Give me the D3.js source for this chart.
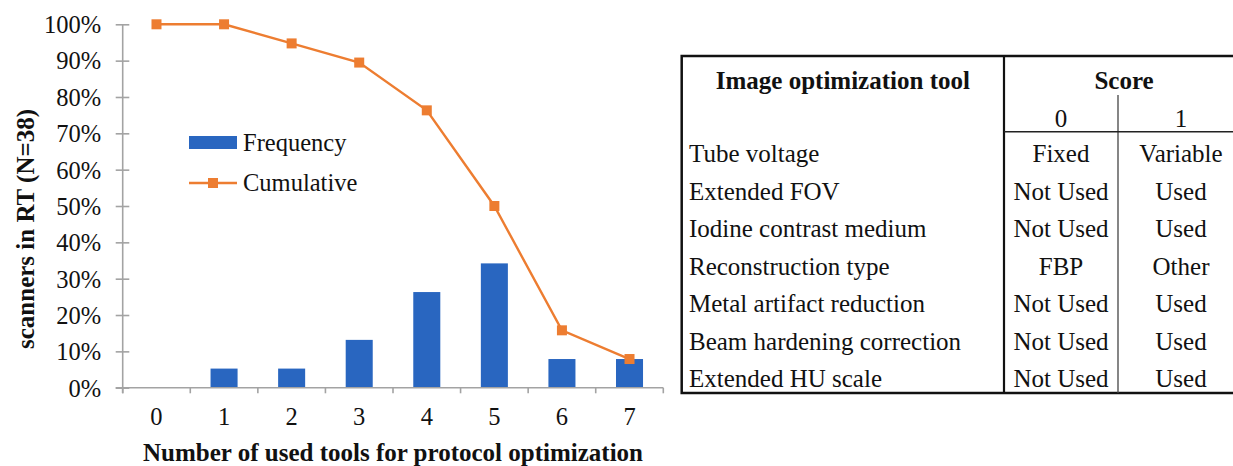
<!DOCTYPE html>
<html>
<head>
<meta charset="utf-8">
<script src="https://cdn.jsdelivr.net/npm/d3@7/dist/d3.min.js"></script>
<style>
  html, body { margin: 0; padding: 0; background: #fff; }
  svg { display: block; font-family: "Liberation Serif", "Times New Roman", serif; }
</style>
</head>
<body>
<svg id="chart" width="1233" height="466"></svg>
<script>
// ---- Data ----
const categories = ["0", "1", "2", "3", "4", "5", "6", "7"];
const frequency  = [0, 5.26, 5.26, 13.16, 26.32, 34.21, 7.89, 7.89];        // % of scanners
const cumulative = [100, 100, 94.74, 89.47, 76.32, 50.0, 15.79, 7.89];      // % of scanners
const yTicks     = [0, 10, 20, 30, 40, 50, 60, 70, 80, 90, 100];
const seriesNames = ["Frequency", "Cumulative"];
const xTitle = "Number of used tools for protocol optimization";
const yTitle = "scanners in RT (N=38)";

const tableHeader = ["Image optimization tool", "Score"];
const scoreLevels = ["0", "1"];
const tools  = ["Tube voltage", "Extended FOV", "Iodine contrast medium", "Reconstruction type",
                "Metal artifact reduction", "Beam hardening correction", "Extended HU scale"];
const score0 = ["Fixed", "Not Used", "Not Used", "FBP", "Not Used", "Not Used", "Not Used"];
const score1 = ["Variable", "Used", "Used", "Other", "Used", "Used", "Used"];

// ---- Styles ----
const BLUE = "#2966C0", ORANGE = "#ED7D31", AXIS = "#A3A3A3";
const TF = 25;

const svg = d3.select("#chart");

// ---- Chart ----
const plot = { left: 122.7, right: 663.3, top: 24.3, bottom: 387.7 };
const x = d3.scaleBand().domain(categories).range([plot.left, plot.right]).padding(0);
const y = d3.scaleLinear().domain([0, 100]).range([plot.bottom, plot.top]);
const barW = x.bandwidth() * 0.4;
const cx = d => x(d) + x.bandwidth() / 2;

// bars
svg.append("g").selectAll("rect").data(categories).join("rect")
  .attr("x", (d) => cx(d) - barW / 2)
  .attr("y", (d, i) => y(frequency[i]))
  .attr("width", barW)
  .attr("height", (d, i) => y(0) - y(frequency[i]))
  .attr("fill", BLUE);

// y axis
const yAxis = svg.append("g")
  .attr("transform", `translate(${plot.left},0)`)
  .call(d3.axisLeft(y).tickValues(yTicks).tickFormat(d => d + "%").tickSizeOuter(0));
yAxis.select(".domain").attr("stroke", AXIS).attr("stroke-width", 1.6)
  .attr("d", `M0,${plot.top}V${plot.bottom + 5.6}`);
yAxis.selectAll(".tick line").attr("stroke", AXIS).attr("stroke-width", 1.6).attr("x1", 6.6).attr("x2", -7);
yAxis.selectAll(".tick text").attr("x", -21.5).attr("dy", "0.34em")
  .attr("font-size", 24.5).attr("fill", "#111").attr("font-family", "Liberation Serif");

// x axis
const xAxis = svg.append("g").attr("transform", `translate(0,${plot.bottom})`);
xAxis.append("line").attr("x1", plot.left - 7).attr("x2", plot.right)
  .attr("stroke", AXIS).attr("stroke-width", 1.6);
const bounds = categories.map(d => x(d)).concat([x.range()[1]]);
xAxis.selectAll("line.tk").data(bounds).join("line").attr("class", "tk")
  .attr("x1", d => d).attr("x2", d => d).attr("y1", 0).attr("y2", 5.6)
  .attr("stroke", AXIS).attr("stroke-width", 1.6);
xAxis.selectAll("text").data(categories).join("text")
  .attr("x", d => cx(d)).attr("y", 37.5).attr("text-anchor", "middle")
  .attr("font-size", 24.5).attr("fill", "#111").text(d => d);

// cumulative line
const line = d3.line().x((d, i) => cx(categories[i])).y(d => y(d));
svg.append("path").datum(cumulative).attr("d", line)
  .attr("fill", "none").attr("stroke", ORANGE).attr("stroke-width", 2.4);
svg.append("g").selectAll("rect").data(cumulative).join("rect")
  .attr("x", (d, i) => cx(categories[i]) - 5).attr("y", d => y(d) - 5)
  .attr("width", 10).attr("height", 10).attr("fill", ORANGE);

// axis titles
svg.append("text").attr("x", 393).attr("y", 461).attr("text-anchor", "middle")
  .attr("font-size", 25).attr("font-weight", "bold").attr("fill", "#111").text(xTitle);
svg.append("text").attr("transform", "translate(34,229) rotate(-90)").attr("text-anchor", "middle")
  .attr("font-size", 25).attr("font-weight", "bold").attr("fill", "#111").text(yTitle);

// legend
const lg = svg.append("g");
lg.append("rect").attr("x", 189).attr("y", 136).attr("width", 48).attr("height", 13).attr("fill", BLUE);
lg.append("line").attr("x1", 189).attr("x2", 237).attr("y1", 183).attr("y2", 183)
  .attr("stroke", ORANGE).attr("stroke-width", 2.4);
lg.append("rect").attr("x", 208).attr("y", 178).attr("width", 10).attr("height", 10).attr("fill", ORANGE);
lg.selectAll("text").data(seriesNames).join("text")
  .attr("x", 243).attr("y", (d, i) => 150.5 + i * 40.5)
  .attr("font-size", 24.5).attr("fill", "#111").text(d => d);

// ---- Table ----
const T = { left: 681.7, c1: 1004, c2: 1118, right: 1244, top: 56, sub: 131.7, bottom: 393 };
const tg = svg.append("g");
tg.append("rect").attr("x", T.left).attr("y", T.top).attr("width", T.right - T.left)
  .attr("height", T.bottom - T.top).attr("fill", "none").attr("stroke", "#111").attr("stroke-width", 2.5);
tg.append("line").attr("x1", T.c1).attr("x2", T.c1).attr("y1", T.top).attr("y2", T.bottom)
  .attr("stroke", "#111").attr("stroke-width", 2.2);
tg.append("line").attr("x1", T.c2).attr("x2", T.c2).attr("y1", 95).attr("y2", T.bottom)
  .attr("stroke", "#444").attr("stroke-width", 1.3);
tg.append("line").attr("x1", T.c1).attr("x2", T.right).attr("y1", T.sub).attr("y2", T.sub)
  .attr("stroke", "#222").attr("stroke-width", 1.4);

tg.append("text").attr("x", (T.left + T.c1) / 2).attr("y", 89).attr("text-anchor", "middle")
  .attr("font-size", TF).attr("font-weight", "bold").attr("fill", "#111").text(tableHeader[0]);
tg.append("text").attr("x", (T.c1 + T.right) / 2).attr("y", 89).attr("text-anchor", "middle")
  .attr("font-size", TF).attr("font-weight", "bold").attr("fill", "#111").text(tableHeader[1]);
const colCenters = [(T.c1 + T.c2) / 2, (T.c2 + T.right) / 2];
tg.selectAll("text.lvl").data(scoreLevels).join("text").attr("class", "lvl")
  .attr("x", (d, i) => colCenters[i]).attr("y", 127).attr("text-anchor", "middle")
  .attr("font-size", TF).attr("fill", "#111").text(d => d);

const rowY = d3.scaleLinear().domain([0, tools.length - 1]).range([162, 387]);
tg.selectAll("text.tool").data(tools).join("text").attr("class", "tool")
  .attr("x", 689).attr("y", (d, i) => rowY(i))
  .attr("font-size", TF).attr("fill", "#111").text(d => d);
tg.selectAll("text.s0").data(score0).join("text").attr("class", "s0")
  .attr("x", colCenters[0]).attr("y", (d, i) => rowY(i)).attr("text-anchor", "middle")
  .attr("font-size", TF).attr("fill", "#111").text(d => d);
tg.selectAll("text.s1").data(score1).join("text").attr("class", "s1")
  .attr("x", colCenters[1]).attr("y", (d, i) => rowY(i)).attr("text-anchor", "middle")
  .attr("font-size", TF).attr("fill", "#111").text(d => d);
</script>
</body>
</html>
